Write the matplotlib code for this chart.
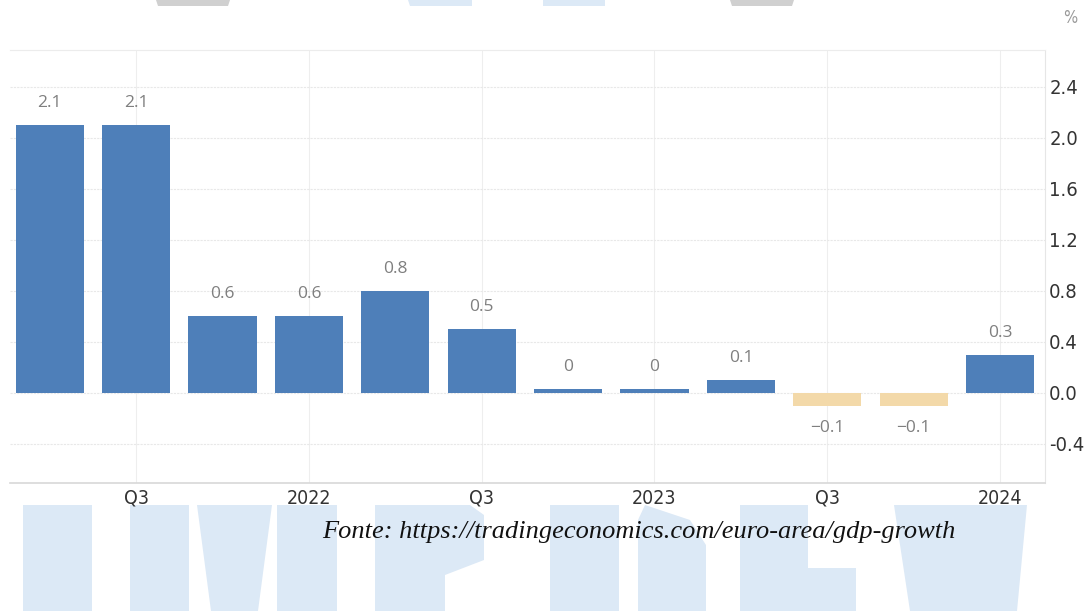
import matplotlib.pyplot as plt
import numpy as np
from matplotlib.patches import Polygon

# euro area GDP growth, quarter on quarter (%), 2021 Q2 .. 2024 Q1
quarters = ["2021Q2", "2021Q3", "2021Q4", "2022Q1", "2022Q2", "2022Q3",
            "2022Q4", "2023Q1", "2023Q2", "2023Q3", "2023Q4", "2024Q1"]
growth = [2.1, 2.1, 0.6, 0.6, 0.8, 0.5, 0.03, 0.03, 0.1, -0.1, -0.1, 0.3]
value_labels = ["2.1", "2.1", "0.6", "0.6", "0.8", "0.5",
                "0", "0", "0.1", "\u22120.1", "\u22120.1", "0.3"]
tick_pos = [1, 3, 5, 7, 9, 11]
tick_labels = ["Q3", "2022", "Q3", "2023", "Q3", "2024"]
y_ticks = [-0.4, 0.0, 0.4, 0.8, 1.2, 1.6, 2.0, 2.4]

BLUE = "#4e7fb9"
TAN = "#f3d9a9"
WM_BLUE = "#dce9f6"
WM_GREY = "#d0d0d0"

W, H = 1086, 611
fig = plt.figure(figsize=(W / 100, H / 100), dpi=100)

# background watermark layer, in pixel coordinates
bg = fig.add_axes([0, 0, 1, 1], zorder=0)
bg.set_xlim(0, W)
bg.set_ylim(H, 0)
bg.set_axis_off()
wm_shapes = [
    (WM_BLUE, [(23, 505), (92, 505), (92, 611), (23, 611)]),
    (WM_BLUE, [(130, 505), (189, 505), (189, 611), (130, 611)]),
    (WM_BLUE, [(197, 505), (272, 505), (258, 611), (211, 611)]),
    (WM_BLUE, [(277, 505), (337, 505), (337, 611), (277, 611)]),
    (WM_BLUE, [(375, 505), (470, 505), (484, 515), (484, 560), (445, 575),
               (445, 611), (375, 611)]),
    (WM_BLUE, [(550, 505), (619, 505), (619, 611), (550, 611)]),
    (WM_BLUE, [(645, 505), (690, 520), (706, 545), (706, 611), (638, 611),
               (638, 520)]),
    (WM_BLUE, [(740, 505), (808, 505), (808, 568), (856, 568), (856, 611),
               (740, 611)]),
    (WM_BLUE, [(894, 505), (1027, 505), (1017, 611), (910, 611)]),
    (WM_GREY, [(156, 0), (230, 0), (228, 6), (158, 6)]),
    (WM_BLUE, [(408, 0), (472, 0), (472, 6), (410, 6)]),
    (WM_BLUE, [(543, 0), (605, 0), (605, 6), (543, 6)]),
    (WM_GREY, [(730, 0), (794, 0), (792, 6), (732, 6)]),
]
for col, pts in wm_shapes:
    bg.add_patch(Polygon(pts, closed=True, facecolor=col, edgecolor="none"))

# main chart
ax = fig.add_axes([10 / W, 1 - 483 / H, (1045 - 10) / W, (483 - 50) / H], zorder=1)
ax.set_facecolor("none")
x = np.arange(len(quarters))
colors = [BLUE if v > 0 else TAN for v in growth]
ax.bar(x, growth, width=0.79, color=colors, zorder=3)

for xi, v, lab in zip(x, growth, value_labels):
    off = 16 if v > 0 else -16
    ax.annotate(lab, (xi, v), xytext=(0, off), textcoords="offset points",
                ha="center", va="center", fontsize=12.5, color="#7f7f7f",
                family="Open Sans")

ax.set_xlim(-0.46, 11.52)
ax.set_ylim(-0.706, 2.69)
ax.set_yticks(y_ticks)
ax.set_yticklabels([f"{t:.1f}" for t in y_ticks])
ax.set_xticks(tick_pos)
ax.set_xticklabels(tick_labels)
ax.yaxis.tick_right()
ax.tick_params(axis="y", length=0, pad=3, labelsize=14.5, labelcolor="#333333")
ax.tick_params(axis="x", length=0, pad=4, labelsize=14, labelcolor="#333333")
for lab in ax.get_xticklabels() + ax.get_yticklabels():
    lab.set_family("DejaVu Sans")
    lab.set_stretch("condensed")

ax.grid(axis="y", color="#e8e8e8", linestyle=(0, (2, 1)), linewidth=0.8, zorder=0)
ax.grid(axis="x", color="#eeeeee", linewidth=0.8, zorder=0)
ax.spines["left"].set_visible(False)
ax.spines["top"].set_color("#ececec")
ax.spines["top"].set_linestyle((0, (2, 1)))
ax.spines["right"].set_color("#e6e6e6")
ax.spines["bottom"].set_color("#d8d8d8")
ax.spines["bottom"].set_linewidth(1.2)

fig.text(1070 / W, 1 - 18 / H, "%", ha="center", va="center",
         fontsize=12, color="#999999", family="DejaVu Sans", stretch="condensed")
fig.text(639 / W, 1 - 532 / H,
         "Fonte: https://tradingeconomics.com/euro-area/gdp-growth",
         ha="center", va="center", fontsize=19, style="italic",
         color="#111111", family="Liberation Serif")

fig.savefig("out.png", dpi=100)
